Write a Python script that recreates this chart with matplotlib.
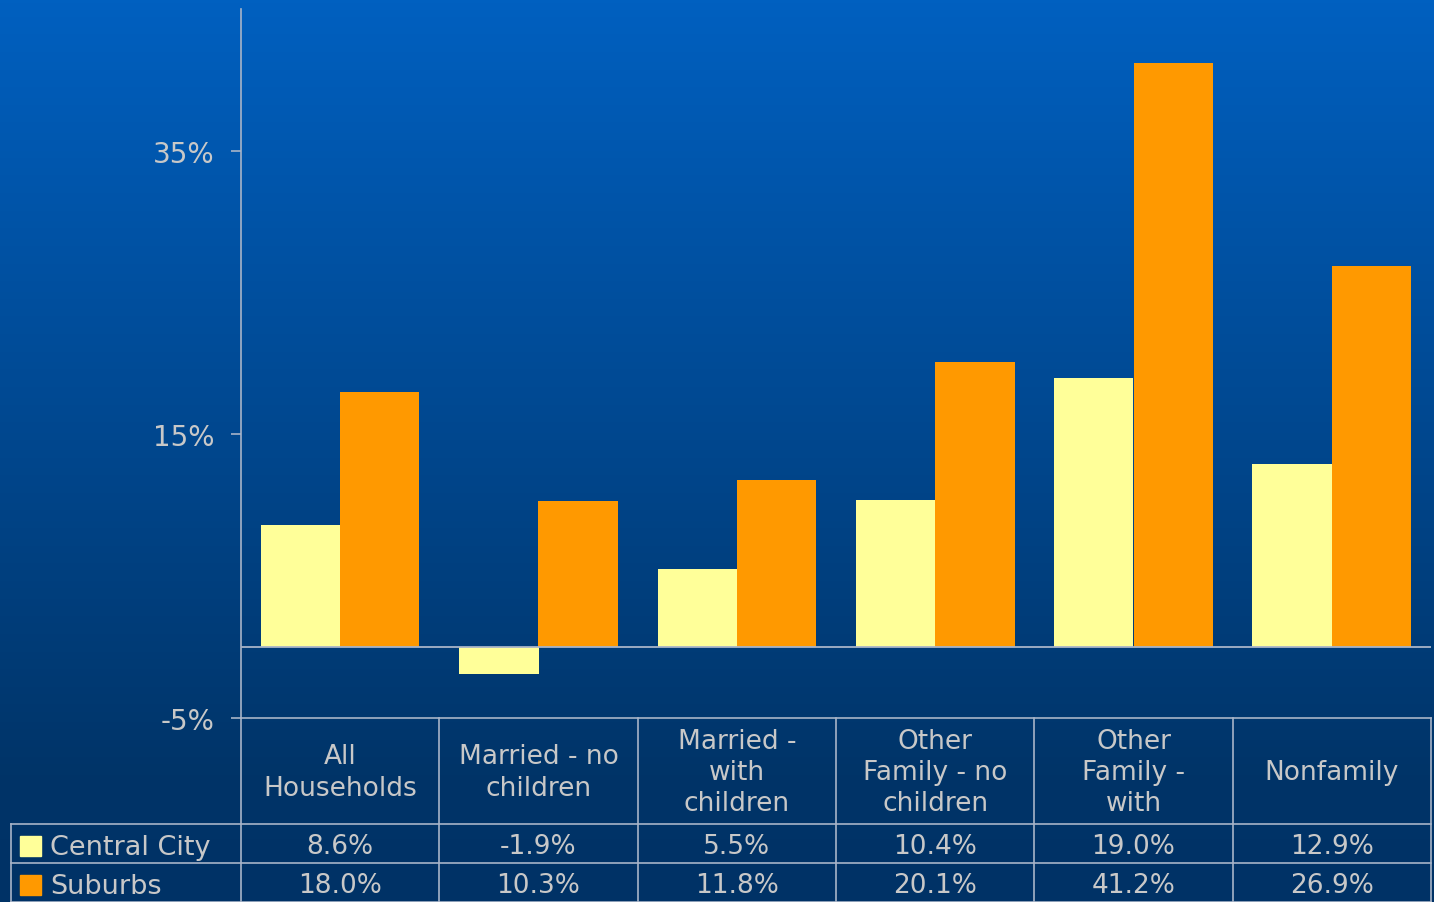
import numpy as np
import matplotlib
matplotlib.use("Agg")
import matplotlib.pyplot as plt
from matplotlib.colors import LinearSegmentedColormap

plt.rcParams['font.family'] = ['DejaVu Sans']

categories = ['All\nHouseholds', 'Married - no\nchildren', 'Married -\nwith\nchildren',
              'Other\nFamily - no\nchildren', 'Other\nFamily -\nwith', 'Nonfamily']
series = ['Central City', 'Suburbs']
central_city = [8.6, -1.9, 5.5, 10.4, 19.0, 12.9]
suburbs = [18.0, 10.3, 11.8, 20.1, 41.2, 26.9]
yticks = [-5, 15, 35]

colors = ['#FFFF99', '#FF9900']
txt = '#C8C8C8'
grid = '#A8B4C8'

W, H = 1434, 903
fig = plt.figure(figsize=(W / 100, H / 100), dpi=100)

# background gradient
bg = fig.add_axes([0, 0, 1, 1])
cmap = LinearSegmentedColormap.from_list('bg', [(0, '#0060C0'), (0.86, '#003468'), (1, '#003266')])
grad = np.linspace(0, 1, 256).reshape(-1, 1)
bg.imshow(grad, aspect='auto', cmap=cmap, extent=[0, 1, 0, 1], origin='upper')
bg.set_axis_off()

# main chart
ax_l, ax_r, ax_t, ax_b = 241, 1431, 10, 719
ax = fig.add_axes([ax_l / W, 1 - ax_b / H, (ax_r - ax_l) / W, (ax_b - ax_t) / H])
ax.patch.set_alpha(0)
x = np.arange(len(categories))
bw = 0.4
ax.bar(x - bw / 2, central_city, bw, color=colors[0], zorder=2)
ax.bar(x + bw / 2, suburbs, bw, color=colors[1], zorder=2)
ax.axhline(0, color=grid, lw=1.3, zorder=3)
ax.set_xlim(-0.5, len(categories) - 0.5)
ax.set_ylim(-5, 45)
ax.set_yticks(yticks)
ax.set_yticklabels([f'{v}%' for v in yticks])
ax.set_xticks([])
ax.tick_params(axis='y', colors=grid, labelcolor=txt, labelsize=20, length=7, width=1.2, pad=12)
for s in ['top', 'right']:
    ax.spines[s].set_visible(False)
for s in ['left', 'bottom']:
    ax.spines[s].set_color(grid)
    ax.spines[s].set_linewidth(1.2)

# data table under the chart
tl = 11
tb = fig.add_axes([tl / W, 0, (ax_r - tl) / W, (H - ax_b) / H])
tb.set_axis_off()
unit = (ax_r - ax_l) / len(categories)
x0 = -0.5 - (ax_l - tl) / unit
tb.set_xlim(x0, len(categories) - 0.5)
tb.set_ylim(H - ax_b, 0)
hdr = 825 - ax_b
row = (H - 825) / 2

lw = 1.2
for i in range(len(categories) + 1):
    tb.plot([i - 0.5, i - 0.5], [0, H - ax_b], color=grid, lw=lw, clip_on=False)
tb.plot([x0, x0], [hdr, H - ax_b], color=grid, lw=lw, clip_on=False)
for y in [hdr, hdr + row]:
    tb.plot([x0, len(categories) - 0.5], [y, y], color=grid, lw=lw, clip_on=False)
tb.plot([x0, len(categories) - 0.5], [H - ax_b - 0.5] * 2, color=grid, lw=lw, clip_on=False)

for i, c in enumerate(categories):
    tb.text(i, hdr / 2 + 1, c, ha='center', va='center', color=txt, fontsize=19,
            linespacing=1.26)
for r, (name, vals) in enumerate(zip(series, [central_city, suburbs])):
    yc = hdr + row * (r + 0.5)
    for i, v in enumerate(vals):
        tb.text(i, yc + 3, f'{v:.1f}%', ha='center', va='center', color=txt, fontsize=19)
    sw = 21 / unit
    tb.add_patch(plt.Rectangle((x0 + 9 / unit, yc - 8), sw, 20, color=colors[r]))
    tb.text(x0 + 39 / unit, yc + 4, name, ha='left', va='center', color=txt, fontsize=19.5)

fig.savefig('out.png', dpi=100)
